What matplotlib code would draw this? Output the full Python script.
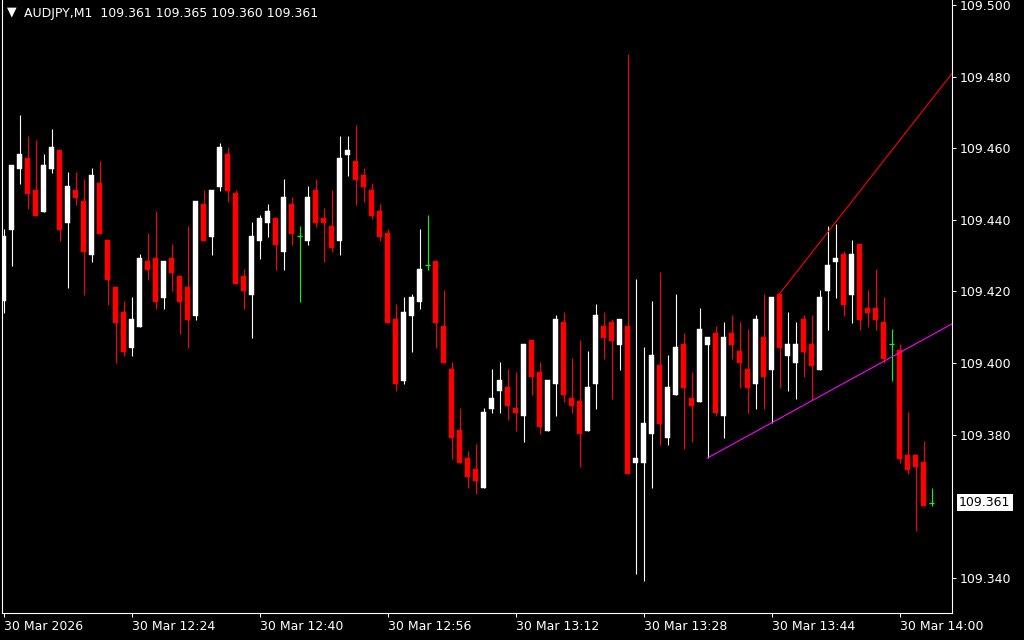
import matplotlib
matplotlib.use("Agg")
import matplotlib.pyplot as plt
import matplotlib.transforms as mtransforms
import numpy as np

# AUDJPY M1 candles, 30 Mar 12:08 .. 14:04 (one per minute)
opens = [109.4172, 109.4372, 109.4542, 109.4573, 109.4484, 109.4422, 109.4542, 109.4595, 109.4391, 109.4484,
         109.4453, 109.4302, 109.4503, 109.4344, 109.4213, 109.4143, 109.4042, 109.4101, 109.4285, 109.4294,
         109.4182, 109.4294, 109.4243, 109.4213, 109.4132, 109.4445, 109.4352, 109.4492, 109.4584, 109.4475,
         109.4243, 109.4190, 109.4341, 109.4391, 109.4405, 109.4311, 109.4445, 109.4355, 109.4341, 109.4484,
         109.4405, 109.4383, 109.4341, 109.4581, 109.4565, 109.4526, 109.4484, 109.4425, 109.4364, 109.4123,
         109.3950, 109.4132, 109.4171, 109.4273, 109.4285, 109.4104, 109.3984, 109.3813, 109.3735, 109.3704,
         109.3651, 109.3873, 109.3922, 109.3933, 109.3875, 109.3852, 109.4065, 109.3975, 109.3810, 109.3942,
         109.4115, 109.3903, 109.3895, 109.3810, 109.3942, 109.4104, 109.4115, 109.4051, 109.4104, 109.3721,
         109.3721, 109.3802, 109.3995, 109.3792, 109.3911, 109.4054, 109.3903, 109.3892, 109.4051, 109.4084,
         109.3852, 109.4084, 109.4034, 109.3984, 109.3942, 109.4073, 109.3981, 109.4193, 109.4020, 109.4001,
         109.4123, 109.4054, 109.3981, 109.4202, 109.4283, 109.4305, 109.4190, 109.4333, 109.4154, 109.4154,
         109.4115, 109.4053, 109.4037, 109.3743, 109.3743, 109.3724, 109.3610]
highs = [109.4375, 109.4553, 109.4693, 109.4634, 109.4623, 109.4584, 109.4654, 109.4595, 109.4534, 109.4534,
         109.4514, 109.4545, 109.4565, 109.4344, 109.4213, 109.4174, 109.4185, 109.4305, 109.4364, 109.4425,
         109.4285, 109.4333, 109.4243, 109.4383, 109.4453, 109.4484, 109.4484, 109.4615, 109.4604, 109.4484,
         109.4263, 109.4394, 109.4414, 109.4445, 109.4405, 109.4514, 109.4464, 109.4383, 109.4495, 109.4514,
         109.4433, 109.4484, 109.4634, 109.4634, 109.4665, 109.4545, 109.4503, 109.4445, 109.4375, 109.4165,
         109.4185, 109.4193, 109.4375, 109.4414, 109.4285, 109.4204, 109.4003, 109.3875, 109.3754, 109.3774,
         109.3875, 109.3984, 109.4003, 109.3984, 109.3975, 109.4054, 109.4065, 109.4003, 109.3953, 109.4134,
         109.4143, 109.4015, 109.4065, 109.4034, 109.4165, 109.4143, 109.4123, 109.4123, 109.4863, 109.4235,
         109.4045, 109.4174, 109.4255, 109.4023, 109.4193, 109.4084, 109.3975, 109.4154, 109.4073, 109.4104,
         109.4115, 109.4134, 109.4115, 109.4096, 109.4134, 109.4193, 109.4185, 109.4193, 109.4143, 109.4115,
         109.4134, 109.4134, 109.4204, 109.4383, 109.4389, 109.4313, 109.4344, 109.4333, 109.4204, 109.4263,
         109.4185, 109.4096, 109.4054, 109.3864, 109.3743, 109.3782, 109.3650]
lows = [109.4141, 109.4272, 109.4500, 109.4431, 109.4411, 109.4422, 109.4531, 109.4341, 109.4210, 109.4442,
        109.4190, 109.4283, 109.4361, 109.4163, 109.4001, 109.4020, 109.4020, 109.4101, 109.4232, 109.4151,
        109.4151, 109.4202, 109.4081, 109.4042, 109.4120, 109.4341, 109.4302, 109.4481, 109.4450, 109.4221,
        109.4151, 109.4070, 109.4291, 109.4352, 109.4260, 109.4260, 109.4330, 109.4171, 109.4330, 109.4380,
        109.4283, 109.4311, 109.4302, 109.4523, 109.4442, 109.4450, 109.4402, 109.4341, 109.4112, 109.3922,
        109.3942, 109.4031, 109.4151, 109.4260, 109.4042, 109.4001, 109.3733, 109.3721, 109.3651, 109.3635,
        109.3651, 109.3861, 109.3861, 109.3842, 109.3810, 109.3780, 109.3911, 109.3802, 109.3810, 109.3852,
        109.3892, 109.3861, 109.3710, 109.3810, 109.3873, 109.4012, 109.3900, 109.3981, 109.3690, 109.3411,
        109.3391, 109.3651, 109.3771, 109.3771, 109.3911, 109.3760, 109.3780, 109.3892, 109.3735, 109.3852,
        109.3792, 109.4012, 109.3931, 109.3861, 109.3873, 109.3873, 109.3833, 109.3931, 109.3922, 109.3900,
        109.3961, 109.3897, 109.3981, 109.4093, 109.4182, 109.4132, 109.4112, 109.4093, 109.4101, 109.4093,
        109.4001, 109.3950, 109.3721, 109.3690, 109.3531, 109.3601, 109.3600]
closes = [109.4355, 109.4553, 109.4584, 109.4472, 109.4411, 109.4553, 109.4604, 109.4372, 109.4495, 109.4461,
          109.4311, 109.4526, 109.4361, 109.4232, 109.4112, 109.4031, 109.4123, 109.4294, 109.4260, 109.4171,
          109.4285, 109.4252, 109.4171, 109.4120, 109.4453, 109.4341, 109.4484, 109.4604, 109.4481, 109.4221,
          109.4202, 109.4355, 109.4405, 109.4425, 109.4330, 109.4464, 109.4361, 109.4355, 109.4464, 109.4391,
          109.4391, 109.4322, 109.4573, 109.4595, 109.4512, 109.4492, 109.4411, 109.4352, 109.4112, 109.3942,
          109.4143, 109.4185, 109.4263, 109.4273, 109.4112, 109.4001, 109.3792, 109.3721, 109.3682, 109.3670,
          109.3864, 109.3903, 109.3953, 109.3880, 109.3861, 109.4054, 109.3961, 109.3822, 109.3953, 109.4123,
          109.3911, 109.3880, 109.3802, 109.3933, 109.4134, 109.4070, 109.4062, 109.4123, 109.3690, 109.3735,
          109.3833, 109.4023, 109.3830, 109.3933, 109.4045, 109.3931, 109.3880, 109.4096, 109.4073, 109.3861,
          109.4073, 109.4051, 109.4001, 109.3931, 109.4123, 109.3961, 109.4185, 109.4042, 109.4054, 109.4054,
          109.4031, 109.3992, 109.4185, 109.4274, 109.4294, 109.4163, 109.4305, 109.4120, 109.4140, 109.4120,
          109.4012, 109.4053, 109.3733, 109.3701, 109.3710, 109.3601, 109.3610]

# time axis labels (bar index -> label)
time_ticks = [0, 16, 32, 48, 64, 80, 96, 112]
time_labels = ["30 Mar 2026", "30 Mar 12:24", "30 Mar 12:40", "30 Mar 12:56",
               "30 Mar 13:12", "30 Mar 13:28", "30 Mar 13:44", "30 Mar 14:00"]
# 109.360 sits under the current-price box, so it is not listed
price_ticks = [109.340, 109.380, 109.400, 109.420, 109.440, 109.460, 109.480, 109.500]

# trendlines: two anchor points (bar index, price), drawn as rays to the right
support_line = [(88, 109.3735), (96, 109.3833)]
resistance_line = [(97, 109.4193), (104, 109.4393)]

header = "AUDJPY,M1  109.361 109.365 109.360 109.361"
last_price = 109.361

BULL = "white"
BEAR = "#ff0000"
DOJI = "#00ff00"

fig = plt.figure(figsize=(10.24, 6.4), dpi=100, facecolor="black")
ax = fig.add_axes([2 / 1024, 27 / 640, 950 / 1024, 613 / 640])
ax.set_facecolor("black")

x = np.arange(len(opens))
o = np.array(opens)
h = np.array(highs)
l = np.array(lows)
c = np.array(closes)

colors = np.where(c > o, BULL, np.where(c < o, BEAR, DOJI))

# wicks
ax.vlines(x, l, h, colors=colors, linewidth=0.8)

# bodies
body_w = 0.6
for xi, oi, ci, col in zip(x, o, c, colors):
    if oi == ci:
        ax.hlines(oi, xi - body_w / 2, xi + body_w / 2, colors=col, linewidth=0.9)
    else:
        lo, hi = min(oi, ci), max(oi, ci)
        ax.bar(xi, max(hi - lo, 0.0003), bottom=lo, width=body_w, color=col,
               edgecolor=col, linewidth=0.3)

ax.set_xlim(-0.1875, 118.5625)
ax.set_ylim(109.3302, 109.5014)

# trend rays
for pts, col in [(support_line, "#ff00ff"), (resistance_line, "#ff0000")]:
    (x0, y0), (x1, y1) = pts
    slope = (y1 - y0) / (x1 - x0)
    xe = ax.get_xlim()[1]
    ax.plot([x0, xe], [y0, y0 + slope * (xe - x0)], color=col, linewidth=0.8)

# frame
for side in ["left", "right", "bottom"]:
    ax.spines[side].set_color("white")
    ax.spines[side].set_linewidth(0.8)
ax.spines["top"].set_visible(False)

ax.yaxis.tick_right()
ax.set_yticks(price_ticks)
ax.set_yticklabels([f"{p:.3f}" for p in price_ticks])
ax.tick_params(axis="y", colors="white", length=3, width=0.75, pad=2.5, labelsize=9)

ax.set_xticks(time_ticks)
ax.set_xticklabels(time_labels)
ax.tick_params(axis="x", colors="white", length=3, width=0.75, pad=2, labelsize=9)
for lab in ax.get_xticklabels():
    lab.set_horizontalalignment("left")

# current price box on the price scale
trans = mtransforms.blended_transform_factory(ax.transAxes, ax.transData)
ax.text(1.0075, last_price, f"{last_price:.3f}", transform=trans, color="black", fontsize=9,
        va="center", ha="left", clip_on=False,
        bbox=dict(facecolor="white", edgecolor="none", pad=1.5))

# header
fig.text(7 / 1024, 1 - 12 / 640, "\u25BC", color="white", fontsize=9, va="center", ha="left")
fig.text(24 / 1024, 1 - 13 / 640, header, color="white", fontsize=9, va="center", ha="left")

fig.savefig("out.png", dpi=100, facecolor="black")
